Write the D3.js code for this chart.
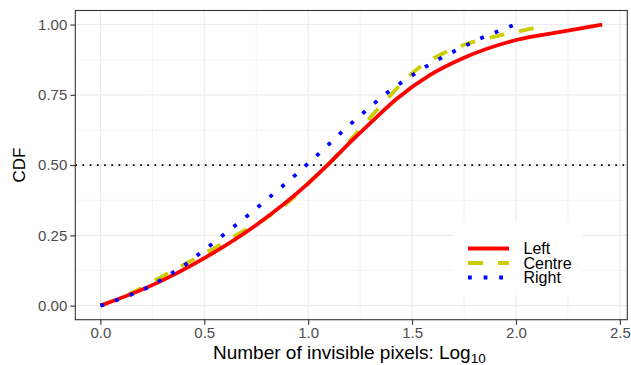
<!DOCTYPE html>
<html>
<head>
<meta charset="utf-8">
<script src="https://cdn.jsdelivr.net/npm/d3@7"></script>
<style>
  html, body { margin: 0; padding: 0; background: #fff; }
  svg { display: block; font-family: "Liberation Sans", Arial, Helvetica, sans-serif; }
</style>
</head>
<body>
<svg id="chart" width="631" height="365"></svg>
<script>
// ---- data ----
const seriesNames = ["Left", "Centre", "Right"];
const seriesColors = ["#FF0000", "#CCCC00", "#0000FF"];

const leftX = [0, 0.25, 0.5, 0.75, 1.0, 1.1, 1.2, 1.3, 1.425, 1.585, 1.75, 2.0, 2.25, 2.415];
const leftY = [0, 0.073, 0.169, 0.287, 0.435, 0.505, 0.58, 0.65, 0.735, 0.82, 0.882, 0.945, 0.978, 1.0];

const centreX = [0, 0.15, 0.3, 0.42, 0.55, 0.675, 0.8, 0.92, 1.0, 1.1, 1.216, 1.308, 1.404, 1.505, 1.63, 1.758, 1.902, 2.047, 2.155];
const centreY = [0, 0.045, 0.105, 0.153, 0.205, 0.26, 0.312, 0.378, 0.435, 0.505, 0.6, 0.677, 0.755, 0.83, 0.89, 0.93, 0.958, 0.981, 1.0];

const rightX = [0, 0.075, 0.144, 0.212, 0.274, 0.337, 0.398, 0.455, 0.511, 0.567, 0.625, 0.681, 0.736, 0.79, 0.846, 0.9, 0.954, 1.008, 1.061, 1.112, 1.163, 1.216, 1.272, 1.325, 1.383, 1.441, 1.5, 1.564, 1.625, 1.689, 1.753, 1.817, 1.886, 1.954, 1.995];
const rightY = [0, 0.019, 0.038, 0.059, 0.084, 0.112, 0.140, 0.172, 0.204, 0.237, 0.271, 0.304, 0.337, 0.371, 0.406, 0.44, 0.475, 0.512, 0.547, 0.583, 0.619, 0.654, 0.69, 0.724, 0.759, 0.79, 0.819, 0.849, 0.875, 0.9, 0.923, 0.947, 0.968, 0.988, 1.0];

const xTicks = [0, 0.5, 1.0, 1.5, 2.0, 2.5];
const xMinor = [0.25, 0.75, 1.25, 1.75, 2.25];
const yTicks = [0, 0.25, 0.5, 0.75, 1.0];
const yMinor = [0.125, 0.375, 0.625, 0.875];
const refLine = 0.5;

// ---- layout ----
const svg = d3.select("#chart");
const panel = { left: 75.3, right: 627.3, top: 10.5, bottom: 319.7 };
const xMax = 2.415;
const x = d3.scaleLinear().domain([-0.05 * xMax, xMax * 1.05]).range([panel.left, panel.right]);
const y = d3.scaleLinear().domain([-0.05, 1.05]).range([panel.bottom, panel.top]);

const g = svg.append("g");
g.append("rect").attr("x", panel.left).attr("y", panel.top)
  .attr("width", panel.right - panel.left).attr("height", panel.bottom - panel.top)
  .attr("fill", "#fff");

// minor grid
g.selectAll(".xminor").data(xMinor).enter().append("line")
  .attr("x1", d => x(d)).attr("x2", d => x(d)).attr("y1", panel.top).attr("y2", panel.bottom)
  .attr("stroke", "#EBEBEB").attr("stroke-width", 0.55);
g.selectAll(".yminor").data(yMinor).enter().append("line")
  .attr("y1", d => y(d)).attr("y2", d => y(d)).attr("x1", panel.left).attr("x2", panel.right)
  .attr("stroke", "#EBEBEB").attr("stroke-width", 0.55);
// major grid
g.selectAll(".xmajor").data(xTicks).enter().append("line")
  .attr("x1", d => x(d)).attr("x2", d => x(d)).attr("y1", panel.top).attr("y2", panel.bottom)
  .attr("stroke", "#EBEBEB").attr("stroke-width", 1.1);
g.selectAll(".ymajor").data(yTicks).enter().append("line")
  .attr("y1", d => y(d)).attr("y2", d => y(d)).attr("x1", panel.left).attr("x2", panel.right)
  .attr("stroke", "#EBEBEB").attr("stroke-width", 1.1);

// reference line
g.append("line").attr("x1", panel.left).attr("x2", panel.right)
  .attr("y1", y(refLine)).attr("y2", y(refLine))
  .attr("stroke", "#000").attr("stroke-width", 1.7).attr("stroke-dasharray", "1.7 5.5");

// series
const line = d3.line().x(d => x(d[0])).y(d => y(d[1])).curve(d3.curveMonotoneX);
const seriesData = {
  Left: leftX.map((v, i) => [v, leftY[i]]),
  Centre: centreX.map((v, i) => [v, centreY[i]]),
  Right: rightX.map((v, i) => [v, rightY[i]])
};
const dashes = { Left: null, Centre: "15 15", Right: "3.8 11.8" };
["Centre", "Left", "Right"].forEach(name => {
  const i = seriesNames.indexOf(name);
  g.append("path").datum(seriesData[name])
    .attr("d", line).attr("fill", "none")
    .attr("stroke", seriesColors[i]).attr("stroke-width", 3.8)
    .attr("stroke-dasharray", dashes[name]).attr("stroke-linecap", "butt")
    .attr("stroke-linejoin", "round");
});

// panel border
g.append("rect").attr("x", panel.left).attr("y", panel.top)
  .attr("width", panel.right - panel.left).attr("height", panel.bottom - panel.top)
  .attr("fill", "none").attr("stroke", "#333333").attr("stroke-width", 1.1);

// axes
const xAxis = d3.axisBottom(x).tickValues(xTicks).tickFormat(d3.format(".1f")).tickSize(5).tickPadding(3);
const yAxis = d3.axisLeft(y).tickValues(yTicks).tickFormat(d3.format(".2f")).tickSize(5).tickPadding(3);
const gx = svg.append("g").attr("transform", `translate(0,${panel.bottom})`).call(xAxis);
const gy = svg.append("g").attr("transform", `translate(${panel.left},0)`).call(yAxis);
[gx, gy].forEach(a => {
  a.select(".domain").remove();
  a.selectAll(".tick line").attr("stroke", "#333333").attr("stroke-width", 1.1);
  a.selectAll(".tick text").attr("fill", "#4D4D4D").style("font-size", "15px")
    .style("font-family", "'Liberation Sans', Arial, sans-serif");
});

// axis titles
svg.append("text").attr("transform", `translate(24.5,${(panel.top + panel.bottom) / 2}) rotate(-90)`)
  .attr("text-anchor", "middle").style("font-size", "17px").attr("fill", "#000").text("CDF");
const xt = svg.append("text").attr("x", 213).attr("y", 359.3)
  .attr("text-anchor", "start").style("font-size", "19px").attr("fill", "#000");
xt.append("tspan").text("Number of invisible pixels: Log");
xt.append("tspan").attr("dy", 4).style("font-size", "13.5px").text("10");

// legend
const lg = svg.append("g");
lg.append("rect").attr("x", 453.3).attr("y", 222.7).attr("width", 128.4).attr("height", 72.3).attr("fill", "#fff");
const legY = [248.5, 263, 277.5];
seriesNames.forEach((name, i) => {
  lg.append("line").attr("x1", 468).attr("x2", 509).attr("y1", legY[i]).attr("y2", legY[i])
    .attr("stroke", seriesColors[i]).attr("stroke-width", 3.8)
    .attr("stroke-dasharray", dashes[name]).attr("stroke-linecap", "butt");
  lg.append("text").attr("x", 523.5).attr("y", legY[i]).attr("dy", "0.36em")
    .style("font-size", "16px").attr("fill", "#000").text(name);
});
</script>
</body>
</html>
